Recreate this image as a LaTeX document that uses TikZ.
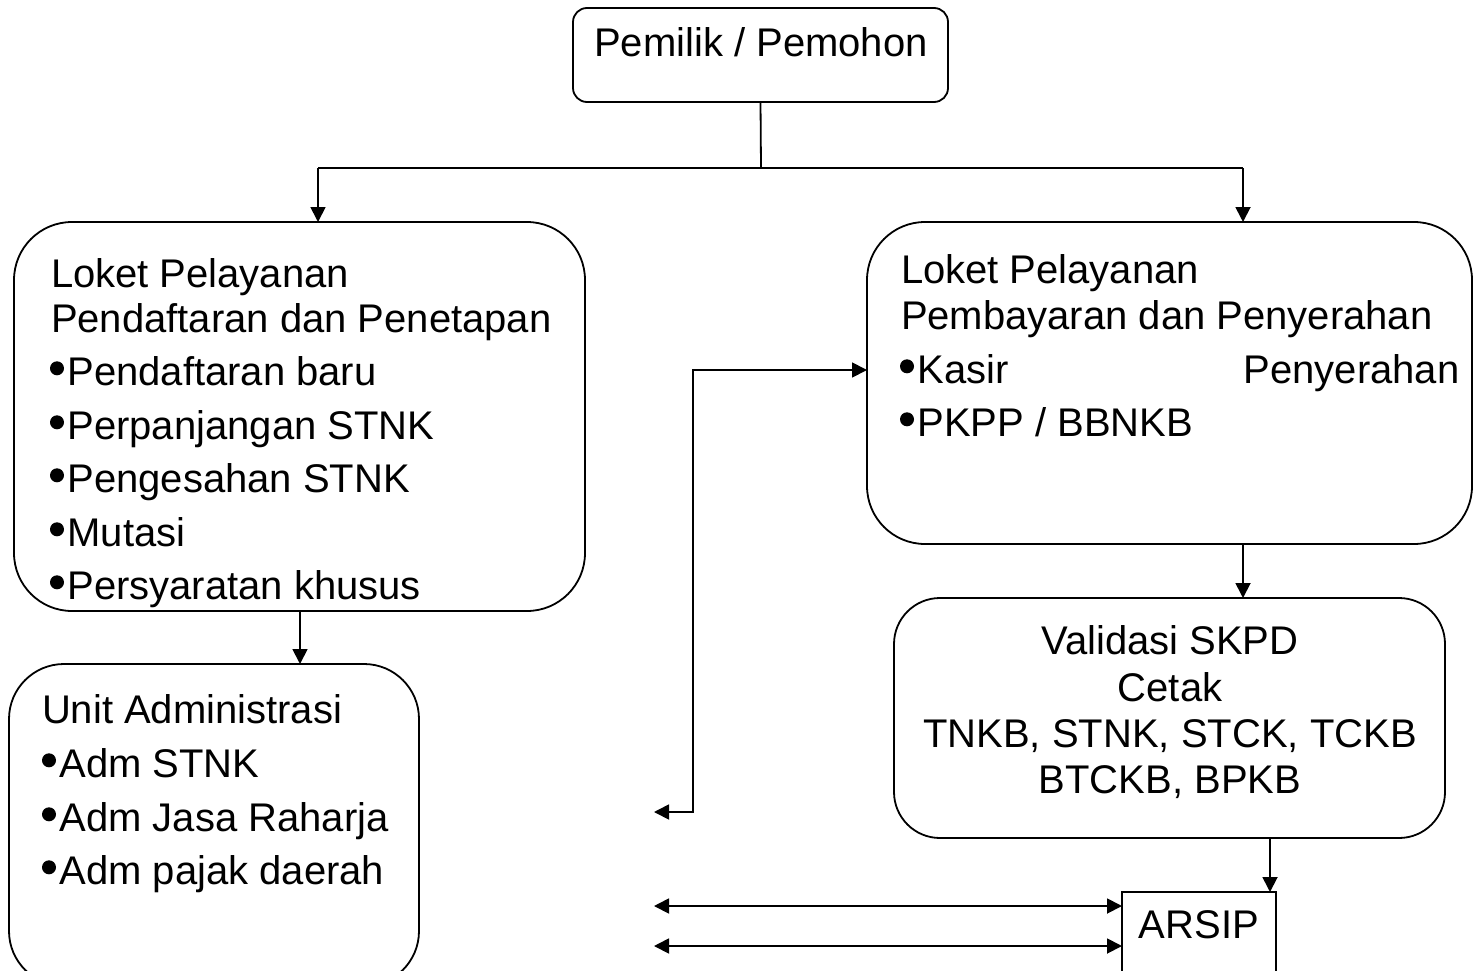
\documentclass[tikz,border=0pt]{standalone}
\usepackage{fontspec}
\setmainfont{Liberation Sans}
\usetikzlibrary{arrows.meta}
\newcommand\bul{\hbox to 17.5pt{\tikz[x=1pt,y=1pt,baseline=-16.7pt]\fill (7,0) circle[radius=7pt];\hss}}
\begin{document}
\begin{tikzpicture}[x=1pt,y=-1pt,
  box/.style={draw,line width=1.8pt,inner sep=0pt,outer sep=0pt,anchor=north west},
  txt/.style={inner sep=0pt,outer sep=0pt,font=\fontsize{40}{46}\selectfont},
  lft/.style={txt,anchor=base west},
  ctr/.style={txt,anchor=base},
  line/.style={draw,line width=1.8pt},
  arr/.style={line,-{Triangle[length=15pt,width=15pt]}},
  dbl/.style={line,{Triangle[length=15pt,width=15pt]}-{Triangle[length=15pt,width=15pt]}}]
\useasboundingbox (0,0) rectangle (1474,971);
\clip (0,0) rectangle (1474,971);
% boxes
\node[box,rounded corners=14pt,minimum width=375pt,minimum height=94pt] (top) at (573,8) {};
\node[box,rounded corners=58pt,minimum width=571pt,minimum height=389pt] (lp) at (14,222) {};
\node[box,rounded corners=58pt,minimum width=605pt,minimum height=322pt] (rp) at (867,222) {};
\node[box,rounded corners=55pt,minimum width=410pt,minimum height=322pt] (ua) at (9,664) {};
\node[box,rounded corners=46pt,minimum width=551pt,minimum height=240pt] (val) at (894,598) {};
\node[box,minimum width=154pt,minimum height=100pt] (ar) at (1122,892) {};
% texts
\node[ctr] (t0) at (761,57) {Pemilik / Pemohon};
\node[lft] (l1) at (51,287) {Loket Pelayanan};
\node[lft] (l2) at (51,332) {Pendaftaran dan Penetapan};
\node[lft] (l3) at (50,385) {\bul Pendaftaran baru};
\node[lft] (l4) at (50,439) {\bul Perpanjangan STNK};
\node[lft] (l5) at (50,492) {\bul Pengesahan STNK};
\node[lft] (l6) at (50,546) {\bul Mutasi};
\node[lft] (l7) at (50,599) {\bul Persyaratan khusus};
\node[lft] (r1) at (901,283) {Loket Pelayanan};
\node[lft] (r2) at (901,329) {Pembayaran dan Penyerahan};
\node[lft] (r3) at (900,383) {\bul Kasir\hspace{235pt}Penyerahan};
\node[lft] (r4) at (900,436) {\bul PKPP / BBNKB};
\node[lft] (u1) at (42,723) {Unit Administrasi};
\node[lft] (u2) at (42,777) {\bul Adm STNK};
\node[lft] (u3) at (42,831) {\bul Adm Jasa Raharja};
\node[lft] (u4) at (42,884) {\bul Adm pajak daerah};
\node[ctr] (v1) at (1170,654) {Validasi SKPD};
\node[ctr] (v2) at (1170,701) {Cetak};
\node[ctr] (v3) at (1170,747) {TNKB, STNK, STCK, TCKB};
\node[ctr] (v4) at (1170,793) {BTCKB, BPKB};
\node[ctr] (a1) at (1199,938) {ARSIP};
% connectors
\coordinate (sp) at (761,168);
\coordinate (bl) at (318,168);
\coordinate (br) at (1243,168);
\draw[line] (top.south) -- (sp);
\draw[line] (bl) -- (br);
\draw[arr] (bl) -- (bl |- lp.north);
\draw[arr] (br) -- (br |- rp.north);
\coordinate (cx) at (300,0);
\draw[arr] (lp.south -| cx) -- (cx |- ua.north);
\draw[arr] (rp.south -| br) -- (br |- val.north);
\coordinate (ax) at (1270,0);
\draw[arr] (val.south -| ax) -- (ax |- ar.north);
\coordinate (e1) at (654,812);
\coordinate (ek) at (693,370);
\draw[dbl] (e1) -| (ek) -- (ek -| rp.west);
\coordinate (f1) at (654,906);
\coordinate (f2) at (654,946);
\draw[dbl] (f1) -- (f1 -| ar.west);
\draw[dbl] (f2) -- (f2 -| ar.west);
\end{tikzpicture}
\end{document}
